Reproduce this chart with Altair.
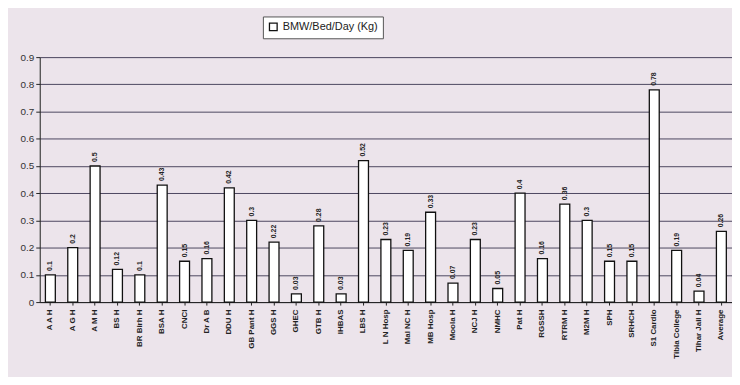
import altair as alt
import pandas as pd

hospitals = [
    "A A H", "A G H", "A M H", "BS H", "BR Birh H", "BSA H", "CNCI", "Dr A B",
    "DDU H", "GB Pant H", "GGS H", "GHEC", "GTB H", "IHBAS", "LBS H", "L N Hosp",
    "Mal NC H", "MB Hosp", "Moola H", "NCJ H", "NMHC", "Pat H", "RGSSH", "RTRM H",
    "M2M H", "SPH", "SRHCH", "S1 Cardio", "Tibia College", "Tihar Jail H", "Average",
]
bmw = [
    0.1, 0.2, 0.5, 0.12, 0.1, 0.43, 0.15, 0.16,
    0.42, 0.3, 0.22, 0.03, 0.28, 0.03, 0.52, 0.23,
    0.19, 0.33, 0.07, 0.23, 0.05, 0.4, 0.16, 0.36,
    0.3, 0.15, 0.15, 0.78, 0.19, 0.04, 0.26,
]
series_name = "BMW/Bed/Day (Kg)"
y_ticks = [0, 0.1, 0.2, 0.3, 0.4, 0.5, 0.6, 0.7, 0.8, 0.9]

df = pd.DataFrame({"hospital": hospitals, "value": bmw, "series": series_name})

x_enc = alt.X(
    "hospital:N", sort=hospitals, title=None,
    scale=alt.Scale(paddingInner=0.55, paddingOuter=0.25),
    axis=alt.Axis(labelAngle=270, labelFontSize=8, labelFontWeight="bold",
                  labelColor="#222", tickColor="#222", domainColor="#222",
                  labelPadding=4, tickSize=3, labelLimit=70),
)
y_enc = alt.Y(
    "value:Q", title=None,
    scale=alt.Scale(domain=[0, 0.9], nice=False),
    axis=alt.Axis(values=y_ticks, format="~g", labelFontSize=10, labelColor="#333",
                  labelOverlap=False,
                  grid=True, gridColor="#3a3550", gridWidth=1, gridOpacity=0.9,
                  domainColor="#222", tickColor="#222", tickSize=4, labelPadding=2),
)

base = alt.Chart(df).encode(x=x_enc, y=y_enc)

bars = base.mark_bar(size=10, stroke="#111", strokeWidth=1.3).encode(
    fill=alt.Fill("series:N", title=None,
                  scale=alt.Scale(range=["#ffffff"]),
                  legend=alt.Legend(orient="none", legendX=225, legendY=-41,
                                    direction="horizontal", symbolType="square",
                                    symbolStrokeColor="#111", symbolStrokeWidth=1.3,
                                    symbolSize=60, labelFontSize=11, labelColor="#222",
                                    fillColor="#ffffff", strokeColor="#555",
                                    padding=5, labelLimit=300)),
)

labels = base.mark_text(
    angle=270, align="left", baseline="middle", dx=4, fontSize=7,
    fontWeight="bold", color="#222",
).encode(
    text=alt.Text("value:Q", format="~g"),
)

chart = (bars + labels).properties(
    width=698, height=247,
    autosize=alt.AutoSizeParams(type="none"),
    padding={"left": 32, "top": 48, "right": 0, "bottom": 74},
    background="#ece4eb",
).configure_view(
    fill="#e3dae6", stroke="#222", strokeWidth=1,
).configure(font="Liberation Sans")

chart.save("out.html", embed_options={"renderer": "svg", "actions": False})
